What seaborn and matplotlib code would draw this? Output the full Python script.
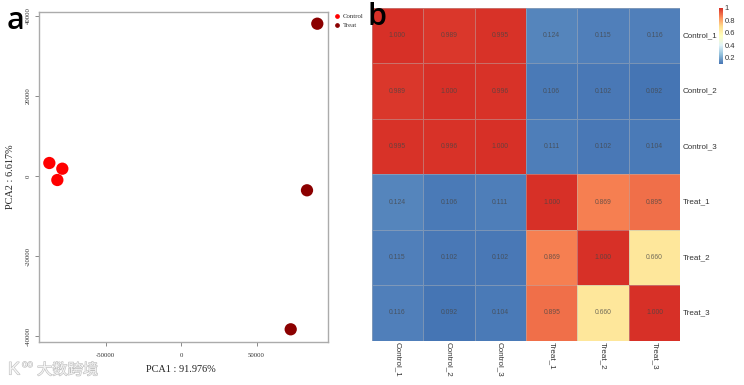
"""PCA scatter plus sample correlation heatmap."""
import matplotlib
matplotlib.use("Agg")
import matplotlib.pyplot as plt
import matplotlib.patheffects as pe
from matplotlib.lines import Line2D
import pandas as pd
import seaborn as sns

W, H = 744, 385

samples = ["Control_1", "Control_2", "Control_3", "Treat_1", "Treat_2", "Treat_3"]
groups = ["Control", "Control", "Control", "Treat", "Treat", "Treat"]
pca1 = [-87200, -78600, -81900, 90260, 83440, 72650]
pca2 = [3250, 1825, -1000, 38075, -3575, -38325]
group_names = ["Control", "Treat"]
group_colors = ["#ff0000", "#8b0000"]
corr = [
    [1.000, 0.989, 0.995, 0.124, 0.115, 0.116],
    [0.989, 1.000, 0.996, 0.106, 0.102, 0.092],
    [0.995, 0.996, 1.000, 0.111, 0.102, 0.104],
    [0.124, 0.106, 0.111, 1.000, 0.869, 0.895],
    [0.115, 0.102, 0.102, 0.869, 1.000, 0.660],
    [0.116, 0.092, 0.104, 0.895, 0.660, 1.000],
]
x_ticks = [-50000, 0, 50000]
y_ticks = [-40000, -20000, 0, 20000, 40000]
cbar_ticks = [0.2, 0.4, 0.6, 0.8, 1]
heat_colors = ["#4575b4", "#91bfdb", "#e0f3f8", "#ffffbf", "#fee090", "#fc8d59", "#d73027"]


def box(left, top, right, bottom):
    # pixel box -> figure fraction rect
    return [left / W, 1 - bottom / H, (right - left) / W, (bottom - top) / H]


sns.set_theme(style="white")
plt.rcParams["font.family"] = ["Liberation Sans", "DejaVu Sans"]
plt.rcParams["axes.unicode_minus"] = False
fig = plt.figure(figsize=(W / 100, H / 100), dpi=100)

# a: PCA
ax = fig.add_axes(box(38.7, 11.7, 328, 341.7))
df = pd.DataFrame({"pca1": pca1, "pca2": pca2, "group": groups})
sns.scatterplot(data=df, x="pca1", y="pca2", hue="group", hue_order=group_names,
                palette=group_colors, s=78, linewidth=0, legend=False, ax=ax, clip_on=False)
ax.set_xlim(-94240, 97350)
ax.set_ylim(-41425, 41075)
ax.set_xticks(x_ticks)
ax.set_yticks(y_ticks)
ax.set_xlabel("")
ax.set_ylabel("")
ax.tick_params(axis="both", length=3, width=0.6, color="#777777", bottom=True, left=True)
ax.tick_params(axis="x", pad=5)
ax.tick_params(axis="y", pad=2.7)
for lab in ax.get_xticklabels():
    lab.set(family="Liberation Serif", fontsize=4.9, color="#333333")
for lab in ax.get_yticklabels():
    lab.set(family="Liberation Serif", fontsize=4.9, color="#333333", rotation=90, va="center")
for sp in ax.spines.values():
    sp.set(color="#ababab", linewidth=1.0)
fig.text(181 / W, 1 - 370 / H, "PCA1 : 91.976%", family="Liberation Serif", fontsize=7.4,
         color="#222222", ha="center", va="center")
fig.text(11 / W, 1 - 177 / H, "PCA2 : 6.617%", family="Liberation Serif", fontsize=7.4,
         color="#222222", ha="center", va="center", rotation=90)

handles = [Line2D([], [], marker="o", ls="", color=c, markersize=2.4) for c in group_colors]
fig.legend(handles, group_names, loc="upper left", bbox_to_anchor=(333 / W, 1 - 13.5 / H),
           frameon=False, handletextpad=0.2, labelspacing=0.42, borderpad=0, borderaxespad=0,
           handlelength=1.2, prop={"family": "Liberation Serif", "size": 4.9}, labelcolor="#333333")

# b: correlation heatmap
hax = fig.add_axes(box(371.7, 8, 680.3, 340.7))
cax = fig.add_axes(box(719, 8, 723, 64))
sns.heatmap(pd.DataFrame(corr, index=samples, columns=samples), ax=hax, cbar_ax=cax,
            cmap=sns.blend_palette(heat_colors, as_cmap=True), vmin=0.092, vmax=1.0,
            annot=True, fmt=".3f", annot_kws={"fontsize": 4.9, "color": "#444444", "alpha": 0.75},
            linewidths=0.4, linecolor=(0.72, 0.72, 0.72, 0.45), cbar_kws={"ticks": cbar_ticks})
hax.yaxis.tick_right()
hax.tick_params(axis="both", length=0, labelsize=5.8, labelcolor="#333333")
hax.tick_params(axis="x", pad=1)
hax.tick_params(axis="y", pad=1.5)
hax.set_yticklabels(samples, rotation=0, va="center")
hax.set_xticklabels(samples, rotation=270, ha="center", va="top")
cax.set_yticklabels(["0.2", "0.4", "0.6", "0.8", "1"])
cax.tick_params(length=0, pad=1, labelsize=5.5, labelcolor="#333333")
for sp in cax.spines.values():
    sp.set_visible(False)

# panel letters
fig.text(15 / W, 1 - 21 / H, "a", fontsize=22, color="black", ha="center", va="center",
         family="Open Sans", weight="semibold")
fig.text(377 / W, 1 - 17 / H, "b", fontsize=22, color="black", ha="center", va="center",
         family="Open Sans", weight="semibold")

# watermark
stroke = [pe.withStroke(linewidth=0.8, foreground="#bdbdbd")]
fig.text(37 / W, 1 - 370 / H, "大数跨境", fontsize=11, color="#f4f4f4", va="center",
         family=["Noto Sans CJK SC", "DejaVu Sans"], path_effects=stroke)
fig.text(8 / W, 1 - 370 / H, "K", fontsize=13, color="#f4f4f4", va="center",
         family="Liberation Sans", path_effects=stroke)
fig.text(22 / W, 1 - 364 / H, "oo", fontsize=7, color="#f4f4f4", va="center",
         family="Liberation Sans", path_effects=stroke)

fig.savefig("out.png", dpi=100)
